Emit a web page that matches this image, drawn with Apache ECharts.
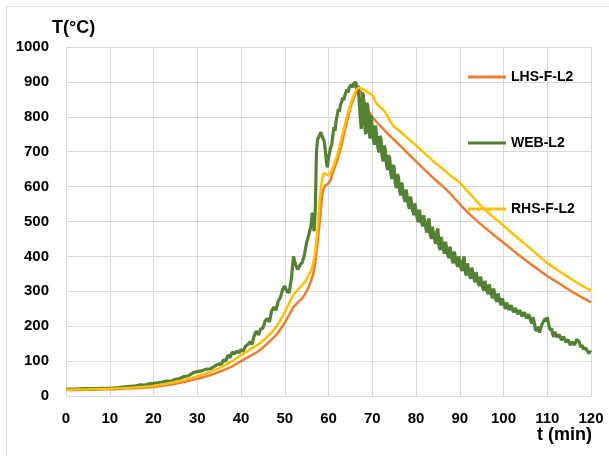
<!DOCTYPE html>
<html>
<head>
<meta charset="utf-8">
<title>T(°C) – t (min)</title>
<script src="https://cdn.jsdelivr.net/npm/echarts@6/dist/echarts.min.js"></script>
<style>
  html, body { margin: 0; padding: 0; background: #ffffff; }
  #chart { width: 609px; height: 456px; }
</style>
</head>
<body>
<div id="chart"></div>
<script>
// Temperature histories (t in minutes, T in °C)
const xTicks = [0, 10, 20, 30, 40, 50, 60, 70, 80, 90, 100, 110, 120];
const yTicks = [0, 100, 200, 300, 400, 500, 600, 700, 800, 900, 1000];

const lhsTime = [0, 5, 10, 15, 20, 25, 30, 33, 35, 38, 40, 42, 44, 46, 48, 50, 51, 52, 53, 54, 55, 56, 56.5, 57, 57.5, 58, 58.5, 59, 59.5, 60, 60.5, 61, 62, 63, 64, 65, 66, 66.5, 67, 67.5, 68, 69, 70, 71, 72, 74, 76, 78, 80, 82, 84, 86, 88, 90, 92, 94, 96, 98, 100, 102, 104, 106, 108, 110, 112, 114, 116, 118, 120];
const lhsTemp = [17, 18, 19, 22, 26, 35, 49, 60, 69, 85, 100, 114, 128, 150, 174, 210, 232, 255, 268, 280, 300, 330, 350, 385, 440, 500, 570, 598, 605, 610, 620, 640, 675, 720, 775, 825, 860, 872, 876, 870, 850, 820, 800, 785, 772, 746, 722, 697, 672, 648, 624, 602, 578, 550, 524, 501, 480, 459, 439, 419, 399, 380, 362, 344, 328, 312, 296, 282, 268];

// WEB-L2 up to the flashover jump, irregular sampling
const webTimeEarly = [0, 2, 4, 6, 8, 10, 12, 14, 16, 17, 18, 19, 20, 21, 22, 23, 24, 25, 26, 27, 28, 29, 30, 31, 32, 33, 34, 35, 35.5, 36, 36.5, 37, 37.5, 38, 38.5, 39, 39.5, 40, 40.5, 41, 41.5, 42, 42.5, 43, 43.5, 44, 44.5, 45, 45.5, 46, 46.5, 47, 47.5, 48, 48.5, 49, 49.5, 50, 50.5, 51, 51.5, 52, 52.5, 53, 53.5, 54, 54.5, 55, 55.5, 56, 56.3, 56.7];
const webTempEarly = [20, 20, 21, 21, 22, 22, 24, 27, 29, 32, 31, 35, 36, 38, 40, 43, 42, 48, 50, 56, 58, 66, 70, 72, 77, 78, 86, 92, 90, 104, 99, 117, 110, 126, 120, 129, 124, 133, 128, 142, 147, 155, 148, 172, 186, 175, 192, 194, 214, 222, 212, 244, 254, 246, 272, 282, 305, 315, 300, 296, 335, 400, 375, 362, 376, 382, 405, 440, 462, 488, 525, 472];
// WEB-L2 from 57 min onward, one sample every quarter minute
const webQuarterStart = 57;
const webQuarterTemp = [
  540, 700, 735, 742,   748, 756, 745, 738,   731, 705, 672, 655,   684, 698, 712, 720,
  748, 770, 760, 790,   805, 822, 815, 835,   842, 855, 848, 862,   866, 878, 870, 885,
  880, 892, 884, 895,   895, 900, 870, 890,   885, 800, 765, 870,   860, 780, 750, 840,
  830, 760, 738, 805,   800, 735, 720, 775,   770, 715, 698, 745,   738, 688, 672, 718,
  705, 662, 648, 690,   682, 636, 622, 662,   655, 610, 596, 636,   628, 588, 575, 612,
  608, 568, 556, 592,   588, 548, 536, 572,   572, 530, 518, 552,   552, 510, 498, 534,
  532, 496, 486, 518,   520, 480, 468, 502,   508, 462, 450, 485,   488, 448, 436, 470,
  480, 430, 418, 456,   460, 420, 408, 442,   446, 405, 395, 428,   432, 392, 380, 414,
  416, 380, 370, 400,   404, 368, 358, 390,   400, 356, 345, 380,   382, 346, 336, 368,
  368, 335, 326, 355,   356, 322, 315, 342,   345, 310, 302, 330,   334, 300, 292, 320,
  325, 288, 280, 308,   308, 276, 270, 294,   292, 266, 260, 280,   280, 256, 250, 268,
  270, 246, 242, 260,   262, 240, 236, 252,   254, 234, 230, 246,   248, 228, 224, 240,
  242, 222, 218, 234,   236, 214, 208, 226,   212, 192, 186, 198,   190, 182, 194, 204,
  210, 216, 222, 214,   226, 210, 196, 188,   194, 176, 170, 184,   184, 168, 164, 176,
  178, 160, 156, 170,   170, 154, 150, 162,   163, 146, 143, 155,   150, 146, 155, 162,
  166, 156, 146, 140,   146, 134, 130, 138,   140, 128, 122, 128,   125
];

const rhsTime = [0, 5, 10, 15, 20, 25, 30, 33, 35, 38, 40, 42, 44, 46, 48, 50, 51, 52, 53, 54, 55, 56, 56.5, 57, 57.5, 58, 58.5, 59, 59.5, 60, 60.5, 61, 62, 63, 64, 65, 66, 67, 68, 69, 70, 71, 72, 73, 74, 75, 76, 78, 80, 82, 84, 86, 88, 89.5, 91, 93, 95, 97, 100, 102, 104, 106, 108, 110, 112, 114, 116, 118, 120];
const rhsTemp = [18, 19, 21, 24, 29, 40, 57, 70, 80, 100, 117, 133, 148, 170, 198, 240, 265, 290, 305, 318, 335, 360, 380, 420, 480, 560, 620, 638, 635, 632, 640, 655, 690, 740, 790, 835, 868, 884, 878, 870, 862, 838, 826, 812, 790, 772, 762, 740, 718, 695, 672, 652, 630, 617, 598, 570, 543, 520, 488, 466, 445, 424, 402, 381, 364, 347, 331, 316, 302];

const seriesNames = ['LHS-F-L2', 'WEB-L2', 'RHS-F-L2'];
const seriesColors = ['#ED7D31', '#548235', '#FFC000'];

const pairs = (ts, vs) => ts.map((t, i) => [t, vs[i]]);
const webData = pairs(webTimeEarly, webTempEarly).concat(
  webQuarterTemp.map((v, i) => [webQuarterStart + i * 0.25, v])
);

const font = 'Liberation Sans, Arial, sans-serif';
const chart = echarts.init(document.getElementById('chart'), null, { renderer: 'canvas' });

chart.setOption({
  backgroundColor: '#ffffff',
  animation: false,
  grid: { left: 66, right: 18, top: 47, bottom: 60, containLabel: false },
  xAxis: {
    type: 'value',
    min: xTicks[0],
    max: xTicks[xTicks.length - 1],
    interval: 10,
    axisLine: { show: false },
    axisTick: { show: false },
    splitLine: { show: true, lineStyle: { color: '#d9d9d9', width: 1 } },
    axisLabel: { color: '#000', fontFamily: font, fontWeight: 'bold', fontSize: 15, margin: 15, formatter: v => String(v) }
  },
  yAxis: {
    type: 'value',
    min: yTicks[0],
    max: yTicks[yTicks.length - 1],
    interval: 100,
    axisLine: { show: false },
    axisTick: { show: false },
    splitLine: { show: true, lineStyle: { color: '#d9d9d9', width: 1 } },
    axisLabel: { color: '#000', fontFamily: font, fontWeight: 'bold', fontSize: 15, margin: 17, formatter: v => String(v) }
  },
  legend: {
    orient: 'vertical',
    left: 463,
    top: 64,
    itemWidth: 38,
    itemHeight: 3,
    itemGap: 50,
    icon: 'rect',
    data: seriesNames,
    textStyle: { color: '#000', fontFamily: font, fontWeight: 'bold', fontSize: 14, lineHeight: 16 }
  },
  graphic: [
    {
      type: 'rect', silent: true, z: -1,
      shape: { x: 6.5, y: 6.5, width: 700, height: 600 },
      style: { fill: 'none', stroke: '#d9d9d9', lineWidth: 1 }
    },
    {
      type: 'text', left: 52, top: 19,
      style: { text: 'T(°C)', fill: '#000', font: 'bold 18px ' + font }
    },
    {
      type: 'text', right: 17, top: 426,
      style: { text: 't (min)', fill: '#000', font: 'bold 18px ' + font }
    }
  ],
  series: [
    {
      name: seriesNames[0], type: 'line', showSymbol: false, smooth: 0.2,
      data: pairs(lhsTime, lhsTemp),
      lineStyle: { color: seriesColors[0], width: 2.5 }, itemStyle: { color: seriesColors[0] }
    },
    {
      name: seriesNames[1], type: 'line', showSymbol: false,
      data: webData,
      lineStyle: { color: seriesColors[1], width: 3.2 }, itemStyle: { color: seriesColors[1] }
    },
    {
      name: seriesNames[2], type: 'line', showSymbol: false, smooth: 0.2,
      data: pairs(rhsTime, rhsTemp),
      lineStyle: { color: seriesColors[2], width: 2.5 }, itemStyle: { color: seriesColors[2] }
    }
  ]
});
</script>
</body>
</html>
